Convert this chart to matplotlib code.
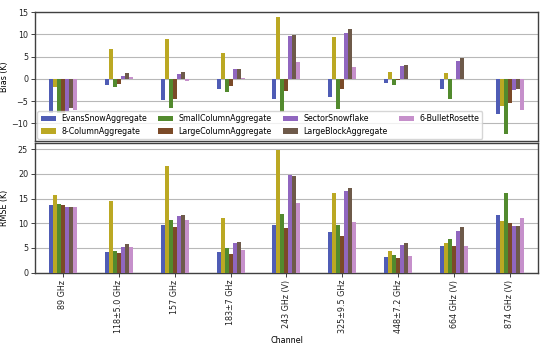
import numpy as np
import matplotlib
matplotlib.use("Agg")
import matplotlib.pyplot as plt

channels = ["89 GHz", "118±5.0 GHz", "157 GHz", "183±7 GHz", "243 GHz (V)",
            "325±9.5 GHz", "448±7.2 GHz", "664 GHz (V)", "874 GHz (V)"]

series_names = ["EvansSnowAggregate", "8-ColumnAggregate", "SmallColumnAggregate",
                "LargeColumnAggregate", "SectorSnowflake", "LargeBlockAggregate",
                "6-BulletRosette"]

bias_evans      = [-7.7, -1.3, -4.8, -2.2, -4.5, -4.1, -0.9, -2.2, -7.9]
bias_8col       = [-1.9,  6.8,  8.9,  5.7, 13.8,  9.5,  1.6,  1.3, -6.2]
bias_smallcol   = [-7.7, -1.9, -6.5, -2.9, -7.4, -6.7, -1.4, -4.5, -12.5]
bias_largecol   = [-7.6, -1.1, -4.5, -1.6, -2.7, -2.2, -0.2, -0.1, -5.4]
bias_sector     = [-7.3,  0.6,  1.0,  2.1,  9.7, 10.4,  2.8,  3.9, -2.6]
bias_largeblock = [-6.5,  1.3,  1.6,  2.3,  9.8, 11.1,  3.1,  4.7, -2.4]
bias_6bullet    = [-6.9,  0.3, -0.45, 0.2,  3.7,  2.6,  0.0, -0.1, -6.9]

rmse_evans      = [13.7,  4.1,  9.7,  4.2,  9.6,  8.2,  3.1,  5.4, 11.6]
rmse_8col       = [15.7, 14.5, 21.6, 11.0, 24.9, 16.1,  4.3,  6.1, 10.5]
rmse_smallcol   = [13.9,  4.4, 10.6,  4.9, 11.9,  9.7,  3.5,  6.9, 16.1]
rmse_largecol   = [13.6,  3.9,  9.3,  3.8,  9.0,  7.4,  3.0,  5.3, 10.1]
rmse_sector     = [13.2,  5.1, 11.5,  6.1, 19.7, 16.6,  5.7,  8.5,  9.5]
rmse_largeblock = [13.2,  5.9, 11.6,  6.2, 19.5, 17.1,  6.1,  9.3,  9.4]
rmse_6bullet    = [13.2,  5.1, 10.6,  4.5, 14.1, 10.3,  3.3,  5.5, 11.1]

bias = [bias_evans, bias_8col, bias_smallcol, bias_largecol, bias_sector, bias_largeblock, bias_6bullet]
rmse = [rmse_evans, rmse_8col, rmse_smallcol, rmse_largecol, rmse_sector, rmse_largeblock, rmse_6bullet]

colors = ["#4f5cb5", "#bba823", "#528a2e", "#7b4a28", "#9066bf", "#6e5a4a", "#c690cb"]

plt.rcParams['font.family'] = ['DejaVu Sans']
plt.rcParams['font.size'] = 5.8

fig = plt.figure(figsize=(5.5, 3.45), dpi=100)
ax1 = fig.add_axes([0.0636, 0.591, 0.9144, 0.374])
ax2 = fig.add_axes([0.0636, 0.2096, 0.9144, 0.3754], sharex=ax1)

x = np.arange(len(channels))
n = len(series_names)
w = 0.5 / n

for ax, data in ((ax1, bias), (ax2, rmse)):
    for i, (name, vals, c) in enumerate(zip(series_names, data, colors)):
        ax.bar(x + (i - (n - 1) / 2) * w, vals, width=w, color=c, label=name, zorder=3)
    ax.yaxis.grid(True, color="#b8b8b8", linewidth=0.8, zorder=0)
    ax.set_axisbelow(True)
    for s in ax.spines.values():
        s.set_color("#404040")
        s.set_linewidth(1.0)
    ax.tick_params(axis='both', labelsize=5.8, length=3, width=0.6, colors="#222222", pad=2)

ax1.set_xlim(-0.5, 8.5)
ax1.set_ylim(-14, 15)
ax1.set_yticks([-10, -5, 0, 5, 10, 15])
ax2.set_ylim(0, 26.2)
ax2.set_yticks([0, 5, 10, 15, 20, 25])
ax1.tick_params(axis='x', labelbottom=False, length=0)

ax2.set_xticks(x)
ax2.set_xticklabels(channels, rotation=90)
ax2.set_xlabel("Channel", fontsize=5.8, labelpad=2)
ax1.set_ylabel("Bias (K)", fontsize=5.8)
ax2.set_ylabel("RMSE (K)", fontsize=5.8)
ax1.yaxis.set_label_coords(-0.052, 0.5)
ax2.yaxis.set_label_coords(-0.052, 0.5)

ax1.legend(loc="lower left", ncol=4, fontsize=5.7, bbox_to_anchor=(0.0, 0.0),
           handlelength=1.9, columnspacing=1.4, borderaxespad=0.3,
           labelspacing=0.4, handletextpad=0.7)

fig.savefig("out.png", dpi=100)
